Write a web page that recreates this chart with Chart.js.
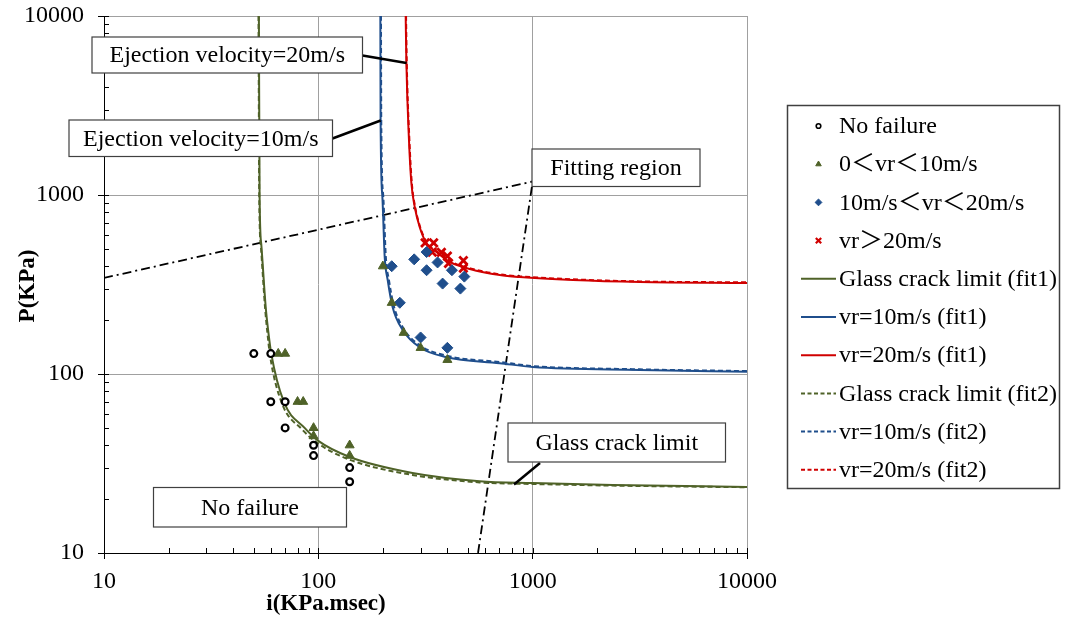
<!DOCTYPE html>
<html><head><meta charset="utf-8">
<script src="https://cdn.jsdelivr.net/npm/chart.js@4.4.0/dist/chart.umd.min.js"></script>
<style>html,body{margin:0;padding:0;background:#fff;}#wrap{width:1065px;height:621px;}</style>
</head><body><div id="wrap"><canvas id="c" width="1065" height="621"></canvas></div>
<script>
// ---------- data ----------
const xTickValues = [10, 100, 1000, 10000];
const xTickLabels = ['10', '100', '1000', '10000'];
const yTickValues = [10, 100, 1000, 10000];
const yTickLabels = ['10', '100', '1000', '10000'];
const xTitle = 'i(KPa.msec)';
const yTitle = 'P(KPa)';
const seriesNames = ['No failure', '0＜vr＜10m/s', '10m/s＜vr＜20m/s', 'vr＞20m/s',
  'Glass crack limit (fit1)', 'vr=10m/s (fit1)', 'vr=20m/s (fit1)',
  'Glass crack limit (fit2)', 'vr=10m/s (fit2)', 'vr=20m/s (fit2)'];
const annotationTexts = ['Ejection velocity=20m/s', 'Ejection velocity=10m/s', 'Fitting region', 'Glass crack limit', 'No failure'];

const noFailureI = [50, 60, 60, 70, 70, 95, 95, 140, 140];
const noFailureP = [130, 130, 70, 70, 50, 40, 35, 30, 25];
const vr0to10I = [65, 70, 80, 85, 95, 95, 140, 140, 200, 220, 250, 300, 400];
const vr0to10P = [130, 130, 70, 70, 50, 45, 40, 35, 400, 250, 170, 140, 120];
const vr10to20I = [220, 240, 300, 400, 280, 320, 320, 360, 420, 380, 480, 460];
const vr10to20P = [400, 250, 160, 140, 437, 480, 380, 420, 380, 320, 350, 300];
const vrOver20I = [315, 345, 340, 375, 400, 405, 475, 475];
const vrOver20P = [540, 540, 480, 478, 455, 415, 430, 390];

const glassFit1I = [52.8, 53.2, 54.2, 56.8, 58.3, 60.3, 69, 86.3, 100, 140, 275, 566, 1000, 2366, 10000];
const glassFit1P = [10000, 1000, 526, 237, 176, 130, 70, 50, 42.3, 34.4, 28, 25.2, 24.6, 24, 23.4];
const v10Fit1I = [194.7, 195.2, 199, 204, 210.7, 222, 247.5, 297, 397, 702, 1000, 3162, 10000];
const v10Fit1P = [10000, 2600, 975, 451, 335, 237, 176, 141, 124, 115, 109.4, 105.3, 103];
const v20Fit1I = [255.6, 257.5, 264.8, 271.7, 281.7, 297, 319, 355.6, 410, 509, 702, 871, 1539, 3162, 10000];
const v20Fit1P = [10000, 5534, 2029, 1167, 857, 663, 540, 481, 423, 386, 357, 348, 335, 326.5, 322.4];

const glassFit2I = [52.6, 53, 54, 56.5, 57.8, 59.5, 67.5, 84, 100, 140, 275, 566, 1000, 2366, 10000];
const glassFit2P = [10000, 1000, 510, 230, 172, 127, 69, 49, 40.8, 33.2, 27.3, 24.8, 24.3, 23.8, 23.3];
const v10Fit2I = [196, 196.6, 201, 206.5, 213.5, 225, 251, 302, 403, 710, 1000, 3162, 10000];
const v10Fit2P = [10000, 2600, 975, 451, 335, 240, 178, 143, 126, 116.5, 110.8, 106.2, 103.8];
const v20Fit2I = [256.6, 258.5, 266, 273, 283, 298.5, 321, 358, 413, 512, 705, 875, 1539, 3162, 10000];
const v20Fit2P = [10000, 5534, 2029, 1167, 857, 663, 541, 483, 426, 389, 360, 351, 338, 329, 325];

const fitRegionAI = [10, 1000];
const fitRegionAP = [344, 1190];
const fitRegionBI = [556, 1000];
const fitRegionBP = [10, 1190];

// ---------- helpers ----------
const pts = (xs, ys) => xs.map((x, i) => ({x: x, y: ys[i]}));
const F = "'Liberation Serif','Times New Roman','Noto Sans CJK JP',serif";
const GREEN = '#4f6228', BLUE = '#1f4e8c', RED = '#d00000';

function pointSet(label, xs, ys, style, color, fill, r, bw, lr, lbw) {
  return {label, data: pts(xs, ys), showLine: false, pointStyle: style, pointRadius: r,
    pointBorderWidth: bw, pointBorderColor: color, pointBackgroundColor: fill,
    kind: 'point', legendRadius: lr, legendBorderWidth: lbw};
}
function lineSet(label, xs, ys, color, dash) {
  return {label, data: pts(xs, ys), showLine: true, pointRadius: 0, borderColor: color,
    borderWidth: 2, borderDash: dash, cubicInterpolationMode: 'monotone', kind: 'line'};
}
const datasets = [
  pointSet(seriesNames[0], noFailureI, noFailureP, 'circle', '#000', '#fff', 3.4, 2.2, 2.3, 1.6),
  pointSet(seriesNames[1], vr0to10I, vr0to10P, 'triangle', GREEN, GREEN, 5.2, 1, 3.2, 1),
  pointSet(seriesNames[2], vr10to20I, vr10to20P, 'rectRot', BLUE, BLUE, 5.5, 1, 3.4, 1),
  pointSet(seriesNames[3], vrOver20I, vrOver20P, 'crossRot', RED, RED, 5.8, 2.8, 3.8, 2.2),
  lineSet(seriesNames[4], glassFit1I, glassFit1P, GREEN, []),
  lineSet(seriesNames[5], v10Fit1I, v10Fit1P, BLUE, []),
  lineSet(seriesNames[6], v20Fit1I, v20Fit1P, RED, []),
  lineSet(seriesNames[7], glassFit2I, glassFit2P, GREEN, [5, 3]),
  lineSet(seriesNames[8], v10Fit2I, v10Fit2P, BLUE, [5, 3]),
  lineSet(seriesNames[9], v20Fit2I, v20Fit2P, RED, [5, 3]),
  {label: 'fitA', data: pts(fitRegionAI, fitRegionAP), showLine: true, pointRadius: 0, borderColor: '#000',
    borderWidth: 1.8, borderDash: [9, 4, 2, 4], kind: 'none'},
  {label: 'fitB', data: pts(fitRegionBI, fitRegionBP), showLine: true, pointRadius: 0, borderColor: '#000',
    borderWidth: 1.8, borderDash: [9, 4, 2, 4], kind: 'none'}
];

// annotation layout (pixels)
const boxes = [
  {x1: 92, y1: 37, x2: 362.5, y2: 73, lead: [362.5, 55.5, 406.5, 63]},
  {x1: 69, y1: 120, x2: 332.5, y2: 156.5, lead: [332.5, 138.5, 380.7, 120.5]},
  {x1: 532, y1: 149, x2: 700, y2: 186.5, lead: null},
  {x1: 508, y1: 423, x2: 725.5, y2: 462, lead: [540, 463, 514, 484.5]},
  {x1: 153.5, y1: 487.5, x2: 346.5, y2: 527, lead: null}
];

const decor = {
  id: 'decor',
  afterDraw(chart) {
    const ctx = chart.ctx, a = chart.chartArea, sx = chart.scales.x, sy = chart.scales.y;
    ctx.save();
    // tick marks: minor inside, major crossing the axis
    ctx.strokeStyle = '#000'; ctx.lineWidth = 1; ctx.setLineDash([]);
    ctx.beginPath();
    for (const d of [10, 100, 1000]) {
      for (let k = 1; k <= 10; k++) {
        const v = k * d;
        const px = Math.round(sx.getPixelForValue(v)) + 0.5;
        ctx.moveTo(px, a.bottom); ctx.lineTo(px, a.bottom - 5);
        const py = Math.round(sy.getPixelForValue(v)) + 0.5;
        ctx.moveTo(a.left, py); ctx.lineTo(a.left + 5, py);
      }
    }
    yTickValues.forEach(v => {
      const py = Math.round(sy.getPixelForValue(v)) + 0.5;
      ctx.moveTo(a.left - 6, py); ctx.lineTo(a.left, py);
    });
    ctx.stroke();

    // axis titles
    ctx.fillStyle = '#000';
    ctx.font = 'bold 23px ' + F;
    ctx.textAlign = 'center'; ctx.textBaseline = 'middle';
    ctx.fillText(xTitle, 326, 604);
    ctx.save(); ctx.translate(28, 286); ctx.rotate(-Math.PI / 2);
    ctx.fillText(yTitle, 0, 0); ctx.restore();

    // annotations
    ctx.font = '24px ' + F;
    boxes.forEach((b, i) => {
      if (b.lead) {
        ctx.strokeStyle = '#000'; ctx.lineWidth = 2.5;
        ctx.beginPath(); ctx.moveTo(b.lead[0], b.lead[1]); ctx.lineTo(b.lead[2], b.lead[3]); ctx.stroke();
      }
      ctx.fillStyle = '#fff';
      ctx.fillRect(b.x1, b.y1, b.x2 - b.x1, b.y2 - b.y1);
      ctx.strokeStyle = '#404040'; ctx.lineWidth = 1.2;
      ctx.strokeRect(b.x1, b.y1, b.x2 - b.x1, b.y2 - b.y1);
      ctx.fillStyle = '#000';
      ctx.fillText(annotationTexts[i], (b.x1 + b.x2) / 2, (b.y1 + b.y2) / 2 + 1);
    });

    // legend
    const L = {x: 787.5, y: 105.5, w: 272, h: 383};
    ctx.fillStyle = '#fff'; ctx.fillRect(L.x, L.y, L.w, L.h);
    ctx.strokeStyle = '#404040'; ctx.lineWidth = 1.5; ctx.strokeRect(L.x, L.y, L.w, L.h);
    ctx.textAlign = 'left';
    let row = 0;
    chart.data.datasets.forEach(ds => {
      if (ds.kind === 'none') return;
      const cy = 126 + row * 38.2;
      if (ds.kind === 'point') {
        ctx.save();
        ctx.fillStyle = ds.pointBackgroundColor; ctx.strokeStyle = ds.pointBorderColor;
        ctx.lineWidth = ds.legendBorderWidth;
        Chart.helpers.drawPoint(ctx, {pointStyle: ds.pointStyle, radius: ds.legendRadius, rotation: 0,
          borderWidth: ds.legendBorderWidth}, 818.5, cy);
        ctx.restore();
      } else {
        ctx.save();
        ctx.strokeStyle = ds.borderColor; ctx.lineWidth = 2;
        ctx.setLineDash(ds.borderDash.length ? [4, 2.5] : []);
        ctx.beginPath(); ctx.moveTo(801, cy); ctx.lineTo(836, cy); ctx.stroke();
        ctx.restore();
      }
      ctx.fillStyle = '#000';
      ctx.fillText(ds.label, 839, cy + 1);
      row++;
    });
    ctx.restore();
  }
};

function axisOpts(vals, labels, isX) {
  return {
    type: 'logarithmic', min: 10, max: 10000, position: isX ? 'bottom' : 'left',
    afterBuildTicks: ax => { ax.ticks = vals.map(v => ({value: v})); },
    afterFit: ax => { if (isX) ax.height = 68; else ax.width = 104; },
    ticks: {autoSkip: false, maxRotation: 0, padding: isX ? 8 : 0, color: '#000',
      font: {family: F, size: 24}, callback: (v, i) => labels[i]},
    grid: {color: '#a0a0a0', tickColor: isX ? '#000' : 'rgba(0,0,0,0)', tickLength: isX ? 6 : 20, lineWidth: 1},
    border: {color: '#000', width: 1}
  };
}

new Chart(document.getElementById('c'), {
  type: 'scatter',
  data: {datasets},
  options: {
    responsive: false, animation: false, devicePixelRatio: 1,
    layout: {padding: {left: 0, top: 16, right: 318, bottom: 0}},
    plugins: {legend: {display: false}, tooltip: {enabled: false}},
    scales: {x: axisOpts(xTickValues, xTickLabels, true), y: axisOpts(yTickValues, yTickLabels, false)}
  },
  plugins: [decor]
});
</script></body></html>
